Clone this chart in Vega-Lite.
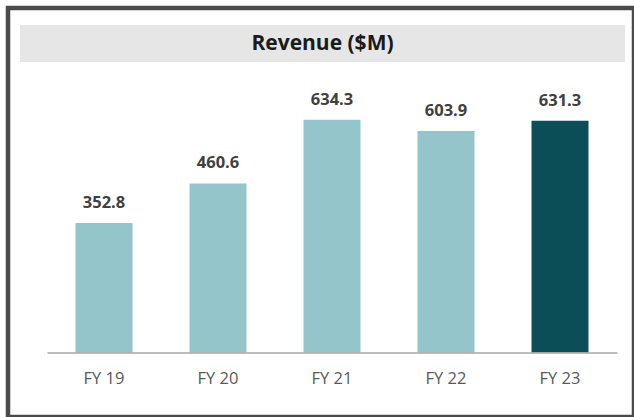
{
  "$schema": "https://vega.github.io/schema/vega-lite/v6.json",
  "width": 626,
  "height": 409,
  "autosize": {"type": "none"},
  "padding": {"left": 8, "top": 8, "right": 0, "bottom": 0},
  "background": "#ffffff",
  "config": {
    "font": "Open Sans",
    "view": {"stroke": "#4a4a4a", "strokeWidth": 4.5, "fill": "#ffffff"}
  },
  "datasets": {
    "revenue": [
      {"year": "FY 19", "revenue": 352.8},
      {"year": "FY 20", "revenue": 460.6},
      {"year": "FY 21", "revenue": 634.3},
      {"year": "FY 22", "revenue": 603.9},
      {"year": "FY 23", "revenue": 631.3}
    ],
    "banner": [{"label": "Revenue ($M)", "first": "FY 19", "middle": "FY 21", "last": "FY 23"}]
  },
  "data": {"name": "revenue"},
  "layer": [
    {
      "data": {"name": "banner"},
      "mark": {"type": "rect", "fill": "#e6e6e6"},
      "encoding": {
        "x": {"field": "first", "type": "nominal", "bandPosition": -0.974},
        "x2": {"field": "last", "bandPosition": 1.64},
        "y": {"datum": 892.4, "type": "quantitative", "axis": null},
        "y2": {"datum": 791.6}
      }
    },
    {
      "data": {"name": "banner"},
      "mark": {"type": "text", "font": "Open Sans", "fontWeight": "bold", "fontSize": 21, "fill": "#1a1a1a", "baseline": "middle", "align": "center"},
      "encoding": {
        "x": {"field": "middle", "type": "nominal", "bandPosition": 0.333},
        "y": {"datum": 840.6, "type": "quantitative", "axis": null},
        "text": {"field": "label"}
      }
    },
    {
      "mark": {"type": "bar"},
      "encoding": {
        "x": {
          "field": "year",
          "type": "nominal",
          "scale": {"range": [39, 609], "paddingInner": 0.5, "paddingOuter": 0.25},
          "axis": {
            "title": null,
            "orient": "bottom",
            "offset": -64.5,
            "bandPosition": 0.5,
            "domain": true,
            "domainColor": "#a6a6a6",
            "domainWidth": 1.5,
            "ticks": false,
            "grid": false,
            "labelAngle": 0,
            "labelAlign": "center",
            "labelFont": "Open Sans",
            "labelFontSize": 16.5,
            "labelColor": "#595959",
            "labelPadding": 18,
            "labelBaseline": "top"
          }
        },
        "y": {
          "field": "revenue",
          "type": "quantitative",
          "scale": {"domain": [-175.7, 938.7], "nice": false, "zero": false},
          "axis": null
        },
        "color": {
          "condition": {"test": "datum.year === 'FY 23'", "value": "#0b4e57"},
          "value": "#93c5cb"
        }
      }
    },
    {
      "mark": {"type": "text", "font": "Open Sans", "fontWeight": "bold", "fontSize": 16.5, "fill": "#404040", "baseline": "middle", "align": "center", "dy": -20},
      "encoding": {
        "x": {"field": "year", "type": "nominal"},
        "y": {"field": "revenue", "type": "quantitative", "axis": null},
        "text": {"field": "revenue", "type": "quantitative", "format": ".1f"}
      }
    }
  ]
}
